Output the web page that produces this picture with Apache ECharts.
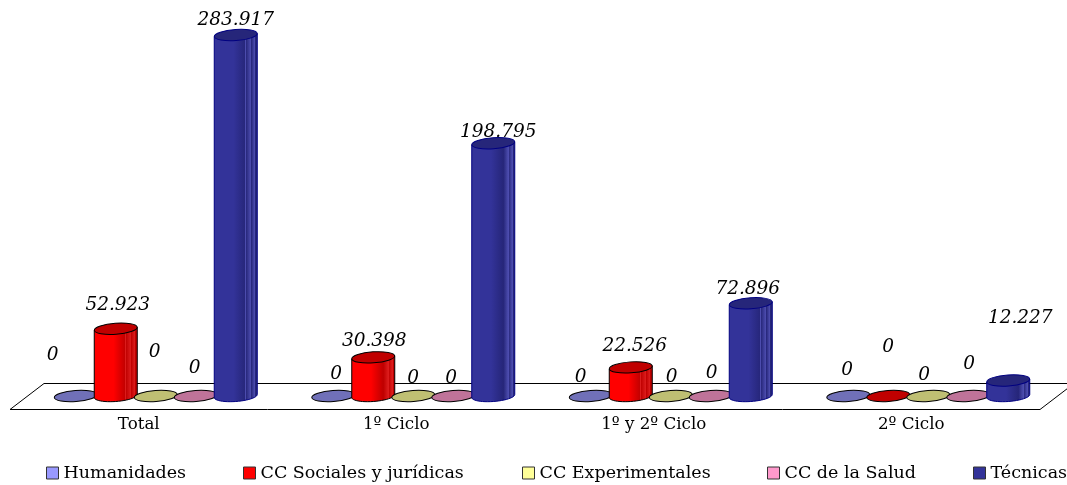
<!DOCTYPE html>
<html>
<head>
<meta charset="utf-8">
<style>
html, body { margin: 0; padding: 0; background: #fff; }
#chart { width: 1067px; height: 485px; }
</style>
<script src="https://cdn.jsdelivr.net/npm/echarts@6/dist/echarts.min.js"></script>
</head>
<body>
<div id="chart"></div>
<script>
var categories = ['Total', '1º Ciclo', '1º y 2º Ciclo', '2º Ciclo'];
var seriesNames = ['Humanidades', 'CC Sociales y jurídicas', 'CC Experimentales', 'CC de la Salud', 'Técnicas'];

// valores
var humanidades = [0, 0, 0, 0];
var sociales = [52923, 30398, 22526, 0];
var experimentales = [0, 0, 0, 0];
var salud = [0, 0, 0, 0];
var tecnicas = [283917, 198795, 72896, 12227];
var allValues = [humanidades, sociales, experimentales, salud, tecnicas];

// colores: cara lateral, tapa, franjas, borde
var sideColors = ['#9999ff', '#ff0000', '#ffff99', '#ff99cc', '#333399'];
var topColors = ['#7070b8', '#c00000', '#bfbf73', '#bf7399', '#26267a'];
var midColors = ['#8585dc', '#dc1c1c', '#e0e088', '#e088b0', '#4c4cae'];
var lineColors = ['#000000', '#000000', '#000000', '#000000', '#000080'];

// desplazamiento de cada etiqueta respecto a la tapa [dx, dy]
var labelOffsets = [
    [[-23, -41], [3, -22], [-10, -19], [-1, -26]],
    [[2, -24], [1, -16], [4, -21], [0, -49]],
    [[-1, -44], [0, -18], [1, -19], [-4, -21]],
    [[-1, -28], [-2, -18], [1, -23], [1, -32]],
    [[0, -15], [5, -11], [-3, -14], [12, -62]]
];
var legendLefts = [46, 243, 522, 767, 973];

var FONT = '"DejaVu Serif", serif';
var STEP = 40, RX = 21.5, RY = 5.5, TILT = 0.07;
var DEPTH_X = 17, DEPTH_Y = 13;

function formatValue(v) {
    return String(v).replace(/\B(?=(\d{3})+$)/g, '.');
}

// degradado del cilindro con sus franjas verticales
function sideFill(s) {
    var stops = [
        { offset: 0, color: sideColors[s] },
        { offset: 0.45, color: sideColors[s] },
        { offset: 0.72, color: topColors[s] }
    ];
    var bands = [0.72, 0.84, 0.93];
    for (var b = 0; b < bands.length; b++) {
        stops.push({ offset: bands[b], color: midColors[s] });
        stops.push({ offset: bands[b] + 0.012, color: midColors[s] });
        stops.push({ offset: bands[b] + 0.012, color: topColors[s] });
    }
    stops.push({ offset: 1, color: topColors[s] });
    return new echarts.graphic.LinearGradient(0, 0, 1, 0, stops);
}

// pared del fondo no hay, solo el suelo del grafico
function renderFloor(params, api) {
    var size = api.size([1, 0])[0];
    var p = api.coord([0, 0]);
    var x0 = p[0] - size / 2, y0 = Math.round(p[1]) + 0.5;
    var x1 = x0 + size * categories.length;
    return {
        type: 'polygon',
        shape: { points: [[x0, y0], [x1, y0], [x1 + DEPTH_X * 2, y0 - DEPTH_Y * 2], [x0 + DEPTH_X * 2, y0 - DEPTH_Y * 2]] },
        style: { fill: '#fff', stroke: '#000', lineWidth: 1 }
    };
}

function makeRender(s) {
    return function (params, api) {
        var c = api.coord([api.value(0), api.value(1)]);
        var base = api.coord([api.value(0), 0]);
        var cx = c[0] + DEPTH_X + (s - 2) * STEP;
        var topY = c[1] - DEPTH_Y;
        var baseY = base[1] - DEPTH_Y;
        var children = [];
        if (api.value(1) > 0) {
            var pts = [[cx - RX, topY + RX * TILT], [cx + RX, topY - RX * TILT]];
            for (var a = 0; a <= 24; a++) {
                var t = Math.PI * a / 24;
                pts.push([cx + RX * Math.cos(t), baseY + RY * Math.sin(t) - Math.cos(t) * RX * TILT]);
            }
            children.push({
                type: 'polygon',
                shape: { points: pts },
                style: { fill: sideFill(s), stroke: lineColors[s], lineWidth: 1 }
            });
        }
        children.push({
            type: 'ellipse',
            shape: { cx: 0, cy: 0, rx: RX, ry: RY },
            x: cx,
            y: topY,
            rotation: TILT,
            style: { fill: topColors[s], stroke: lineColors[s], lineWidth: 1 }
        });
        var off = labelOffsets[s][params.dataIndex];
        children.push({
            type: 'text',
            z2: 100,
            x: cx + off[0],
            y: topY + off[1],
            style: {
                text: formatValue(api.value(1)),
                font: 'italic 18.5px ' + FONT,
                fill: '#000',
                align: 'center',
                verticalAlign: 'middle'
            }
        });
        return { type: 'group', children: children };
    };
}

var chart = echarts.init(document.getElementById('chart'));

var series = [{
    type: 'custom',
    silent: true,
    renderItem: renderFloor,
    data: [[0, 0]],
    encode: { x: 0, y: 1 },
    z: 1
}];
var legends = [];
for (var i = 0; i < seriesNames.length; i++) {
    var rows = [];
    for (var j = 0; j < categories.length; j++) {
        rows.push([j, allValues[i][j]]);
    }
    series.push({
        name: seriesNames[i],
        type: 'custom',
        renderItem: makeRender(i),
        itemStyle: { color: sideColors[i] },
        data: rows,
        encode: { x: 0, y: 1 },
        z: 2 + i
    });
    legends.push({
        data: [seriesNames[i]],
        left: legendLefts[i],
        top: 464,
        padding: 0,
        itemWidth: 12,
        itemHeight: 12,
        itemGap: 5,
        icon: 'rect',
        itemStyle: { borderColor: '#333', borderWidth: 1 },
        textStyle: { fontFamily: FONT, fontSize: 17.5, color: '#000' },
        selectedMode: false
    });
}

var option = {
    animation: false,
    backgroundColor: '#fff',
    grid: { left: 10, width: 1030, top: 27.6, height: 381.4 },
    legend: legends,
    xAxis: {
        type: 'category',
        data: categories,
        axisLine: { show: false },
        axisTick: { show: false },
        axisLabel: { color: '#000', fontFamily: FONT, fontSize: 16.7, margin: 7, interval: 0 }
    },
    yAxis: {
        type: 'value',
        min: 0,
        max: 300000,
        show: false
    },
    series: series
};
chart.setOption(option);
</script>
</body>
</html>
